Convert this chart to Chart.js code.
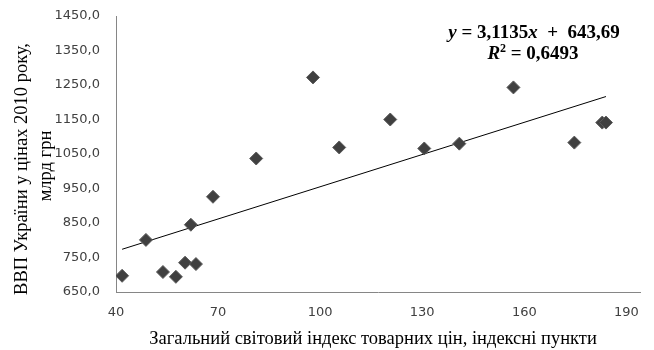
<!DOCTYPE html>
<html>
<head>
<meta charset="utf-8">
<script src="https://cdn.jsdelivr.net/npm/chart.js@4"></script>
<style>
  html, body { margin: 0; padding: 0; background: #fff; }
  #wrap { width: 654px; height: 350px; }
</style>
</head>
<body>
<div id="wrap"><canvas id="chart"></canvas></div>
<script>
// world commodity price index vs Ukraine GDP (2010 prices)
let priceIndex = [41.8, 48.8, 53.8, 57.6, 60.3, 62.0, 63.5, 68.5, 81.2, 97.9,
                  105.6, 120.6, 130.6, 140.9, 156.8, 174.7, 182.9, 184.0];
let gdp = [697, 801, 708, 694, 735, 845, 731, 926, 1037, 1272,
           1069, 1150, 1066, 1080, 1243, 1083, 1141, 1141];

let xTicks = [40, 70, 100, 130, 160, 190];
let yTicks = [650, 750, 850, 950, 1050, 1150, 1250, 1350, 1450];

let xTitle = "Загальний світовий індекс товарних цін, індексні пункти";
let yTitle = ["ВВП України у цінах 2010 року,", "млрд грн"];

// linear trend from the equation shown on the chart
let slope = 3.1135;
let intercept = 643.69;
let trendX = [Math.min(...priceIndex), Math.max(...priceIndex)];

let points = priceIndex.map((x, i) => ({ x: x, y: gdp[i] }));
let trend = trendX.map(x => ({ x: x, y: slope * x + intercept }));

const serif = "'Liberation Serif', serif";

// axis titles + equation text
const textPlugin = {
    id: "texts",
    afterDraw(c) {
        let ctx = c.ctx;
        ctx.save();
        ctx.fillStyle = "#000";
        ctx.textBaseline = "middle";
        ctx.textAlign = "center";

        ctx.font = "18.5px " + serif;
        ctx.fillText(xTitle, 373, 339);

        ctx.save();
        ctx.translate(22, 169);
        ctx.rotate(-Math.PI / 2);
        ctx.fillText(yTitle[0], 0, 0);
        ctx.restore();
        ctx.save();
        ctx.translate(46, 166);
        ctx.rotate(-Math.PI / 2);
        ctx.fillText(yTitle[1], 0, 0);
        ctx.restore();

        ctx.textAlign = "left";
        let parts1 = [
            ["italic bold 19px " + serif, "y"],
            ["bold 19px " + serif, " = 3,1135"],
            ["italic bold 19px " + serif, "x"],
            ["bold 19px " + serif, "  +  643,69"]
        ];
        let parts2 = [
            ["italic bold 19px " + serif, "R"],
            ["bold 12px " + serif, "2"],
            ["bold 19px " + serif, " = 0,6493"]
        ];
        drawParts(ctx, parts1, 534, 33);
        drawParts(ctx, parts2, 533, 54);
        ctx.restore();
    }
};

function drawParts(ctx, parts, cx, cy) {
    let total = 0;
    parts.forEach(p => { ctx.font = p[0]; total += ctx.measureText(p[1]).width; });
    let x = cx - total / 2;
    parts.forEach(p => {
        ctx.font = p[0];
        let dy = p[1] === "2" ? -5 : 0;
        ctx.fillText(p[1], x, cy + dy);
        x += ctx.measureText(p[1]).width;
    });
}

chart = new Chart(document.getElementById("chart"), {
    type: "scatter",
    data: {
        datasets: [{
            data: points,
            pointStyle: "rectRot",
            pointRadius: 6.5,
            pointBackgroundColor: "#404040",
            pointBorderColor: "#5a5a5a",
            pointBorderWidth: 1
        }, {
            type: "line",
            data: trend,
            borderColor: "#000",
            borderWidth: 1,
            pointRadius: 0,
            fill: false
        }]
    },
    options: {
        responsive: true,
        maintainAspectRatio: false,
        animation: false,
        layout: { padding: { top: 16, right: 14, left: 0, bottom: 0 } },
        plugins: { legend: { display: false }, tooltip: { enabled: false } },
        scales: {
            x: {
                type: "linear",
                min: 40,
                max: 194,
                afterBuildTicks: s => { s.ticks = xTicks.map(v => ({ value: v })); },
                afterFit: s => { s.height = 58; s.paddingLeft = 0; s.paddingRight = 0; },
                grid: { display: false, drawTicks: false },
                border: { color: "#868686", width: 1 },
                ticks: {
                    padding: 13,
                    color: "#404040",
                    font: { family: "DejaVu Sans", size: 13 },
                    callback: v => String(v)
                }
            },
            y: {
                min: 650,
                max: 1450,
                afterBuildTicks: s => { s.ticks = yTicks.map(v => ({ value: v })); },
                afterFit: s => { s.width = 116; s.paddingTop = 0; s.paddingBottom = 0; },
                grid: { display: false, drawTicks: false },
                border: { color: "#868686", width: 1 },
                ticks: {
                    padding: 16,
                    color: "#404040",
                    font: { family: "DejaVu Sans", size: 13 },
                    callback: v => v.toFixed(1).replace(".", ",")
                }
            }
        }
    },
    plugins: [textPlugin]
});
</script>
</body>
</html>
